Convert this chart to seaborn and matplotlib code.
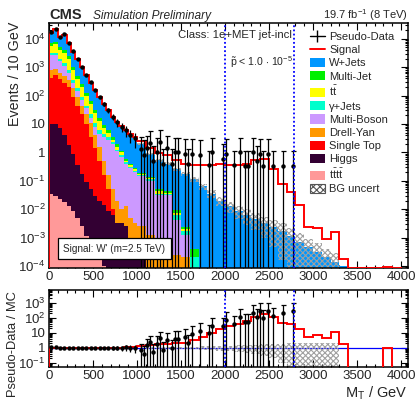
import numpy as np
import pandas as pd
import matplotlib
matplotlib.use("Agg")
import matplotlib.pyplot as plt
import seaborn as sns
from matplotlib.patches import Patch
from matplotlib.lines import Line2D
from matplotlib.ticker import FixedLocator, FuncFormatter, LogLocator, NullFormatter, MultipleLocator

# ---------------- data (Events / 10 GeV) ----------------
bin_edges = [0, 50, 100, 150, 200, 250, 300, 350, 400, 450, 500, 550, 600, 650, 700, 750,
             800, 850, 900, 950, 1000, 1100, 1200, 1300, 1400, 1500, 1600, 1700, 1800, 1900,
             2000, 2100, 2200, 2300, 2400, 2500, 2600, 2700, 2800, 2900, 3000, 3100, 3200,
             3300, 3400, 3500, 3600, 3700, 3800, 3900, 4000]

process_names = ["W+Jets", "Multi-Jet", "tt", "gJets", "Multi-Boson", "Drell-Yan",
                 "Single Top", "Higgs", "tttt"]

w_jets = [8770, 13437, 6470, 10144, 4567, 2548, 1494, 749, 399, 219, 126.6, 73.3, 41.2, 23.2,
          14.2, 9.2, 6.82, 5.06, 3.58, 2.74, 1.71, 0.755, 0.47, 0.356, 0.242, 0.176, 0.112,
          0.063, 0.0355, 0.02, 0.0126, 0.0089, 0.0063, 0.0045, 0.0032, 0.0024, 0.00166,
          0.00112, 0.0007, 0.00045, 0.00032, 0.0002, 0.00014, 0.0001, 0, 0, 0, 0, 0.00009, 0]
multi_jet = [1456, 1633, 1031, 819, 517, 206, 103, 51, 26, 13, 6.5, 3.2, 1.83, 1.3, 0.73, 0.42,
             0.12, 0.06, 0.043, 0.03, 0.02, 0.013, 0.006, 0.004, 0.002, 0.0004, 0.0002, 0, 0, 0,
             0, 0, 0, 0, 0, 0, 0, 0, 0, 0, 0, 0, 0, 0, 0, 0, 0, 0, 0, 0]
ttbar = [2461, 3148, 1986, 1749, 1201, 439, 220, 111, 55.3, 27.7, 13.9, 6.3, 2.61, 1.46, 0.58,
         0.32, 0.21, 0.054, 0.039, 0.027, 0.018, 0.012, 0.01, 0.004, 0.001, 0.0003, 0, 0, 0, 0,
         0, 0, 0, 0, 0, 0, 0, 0, 0, 0, 0, 0, 0, 0, 0, 0, 0, 0, 0, 0]
gamma_jets = [532, 532, 410, 291, 163, 73, 37, 18.3, 9.2, 6.6, 3.28, 1.84, 0.92, 0.73, 0.24,
              0.14, 0.08, 0.05, 0.034, 0.024, 0.016, 0.011, 0.0035, 0.003, 0.002, 0.0005, 0.0002,
              0, 0, 0, 0, 0, 0, 0, 0, 0, 0, 0, 0, 0, 0, 0, 0, 0, 0, 0, 0, 0, 0, 0]
multi_boson = [1836, 1798, 954, 621, 276, 104, 52, 26.1, 13.1, 4.6, 3.96, 2.89, 3.05, 2.66, 1.95,
               1.1, 0.7, 0.39, 0.277, 0.197, 0.139, 0.099, 0.031, 0.031, 0.004, 0.001, 0, 0, 0,
               0, 0, 0, 0, 0, 0, 0, 0, 0, 0, 0, 0, 0, 0, 0, 0, 0, 0, 0, 0, 0]
drell_yan = [377, 307, 251, 219, 155, 88.7, 44.4, 22.3, 12.4, 7.65, 2.57, 1.08, 0.343, 0.108,
             0.04, 0.017, 0.0068, 0.0101, 0.0044, 0.0027, 0.0015, 0.0012, 0.0005, 0.0003,
             0.00025, 0.0002, 0, 0, 0, 0, 0, 0, 0, 0, 0, 0, 0, 0, 0, 0, 0, 0, 0, 0, 0, 0, 0, 0,
             0, 0]
single_top = [407, 515, 373, 278, 198, 88.2, 44.3, 22.2, 9.9, 3.5, 1.38, 0.48, 0.144, 0.041,
              0.0037, 0, 0, 0, 0, 0, 0, 0, 0, 0, 0, 0, 0, 0, 0, 0, 0, 0, 0, 0, 0, 0, 0, 0, 0, 0,
              0, 0, 0, 0, 0, 0, 0, 0, 0, 0]
higgs = [9.96, 9.97, 7.06, 3.96, 1.77, 0.88, 0.35, 0.175, 0.088, 0.049, 0.028, 0.02, 0.014,
         0.0089, 0.0063, 0.0032, 0.0032, 0.0025, 0.00063, 0.0005, 0.001, 0, 0, 0, 0, 0, 0, 0, 0,
         0, 0, 0, 0, 0, 0, 0, 0, 0, 0, 0, 0, 0, 0, 0, 0, 0, 0, 0, 0, 0]
tttt = [0.0355, 0.028, 0.0224, 0.0178, 0.0126, 0.0089, 0.005, 0.0025, 0.0011, 0.00056, 0.00028,
        0.00018, 0.0001, 0, 0, 0, 0, 0, 0, 0, 0, 0, 0, 0, 0, 0, 0, 0, 0, 0, 0, 0, 0, 0, 0, 0, 0,
        0, 0, 0, 0, 0, 0, 0, 0, 0, 0, 0, 0, 0]

signal_wprime = [2, 3, 3, 2.5, 2, 1.5, 1.2, 1.0, 0.9, 0.8, 0.7, 0.65, 0.6, 0.55, 0.5, 0.45, 0.42,
                 0.4, 0.38, 0.4, 0.6, 0.5, 0.4, 0.38, 0.3, 0.22, 0.243, 0.29, 0.335, 0.36, 0.357,
                 0.361, 0.394, 0.525, 0.577, 0.25, 0.078, 0.039, 0.0128, 0.002, 0.0019, 0.0007,
                 0.0014, 0.00008, 0.00002, 0, 0, 0, 0, 0]

bkg_rel_unc = [0.02, 0.03, 0.08, 0.1, 0.04, 0.03, 0.03, 0.03, 0.03, 0.03, 0.04, 0.04, 0.05, 0.05,
               0.05, 0.06, 0.06, 0.07, 0.07, 0.08, 0.08, 0.1, 0.1, 0.12, 0.15, 0.18, 0.2, 0.25,
               0.3, 0.35, 0.4, 0.5, 0.55, 0.6, 0.7, 0.8, 0.9, 1.0, 1.0, 1.0, 1.0, 1.0, 1.0, 1.0,
               0, 0, 0, 0, 1.0, 0]

# pseudo-data, low-mass part (one value per 50 GeV bin, 0-1000 GeV)
data_low = [1.7e4, 2.3e4, 1.2e4, 1.45e4, 7.0e3, 3.6e3, 2.0e3, 1.0e3, 540, 290, 160, 90, 50, 30,
            18, 11.5, 8, 6, 4.2, 3.2]
# pseudo-data, high-mass single points
data_high_mass = [1040, 1075, 1110, 1150, 1185, 1225, 1260, 1295, 1340, 1395, 1430, 1470, 1545,
                  1585, 1620, 1720, 1815, 1850, 1975, 2010, 2100, 2170, 2226, 2265, 2321, 2360,
                  2400, 2435, 2490, 2548, 2662, 2776]
data_high_val = [1.3, 0.8, 1.4, 2.1, 0.5, 1.0, 2.3, 0.4, 1.4, 0.4, 1.0, 1.0, 0.9, 0.4, 0.9, 0.8,
                 0.35, 1.0, 0.6, 0.9, 0.35, 1.0, 0.33, 0.33, 1.0, 0.5, 0.9, 0.33, 0.9, 0.33,
                 0.33, 0.33]
data_high_n = [2, 1, 2, 2, 1, 1, 2, 1, 2, 1, 1, 1, 1, 1, 1, 1, 1, 1, 1, 1, 1, 1, 1, 1, 1, 1, 1,
               1, 1, 1, 1, 1]

colors = {"W+Jets": "#0097ff", "Multi-Jet": "#00f000", "tt": "#ffff00", "gJets": "#00ffcc",
          "Multi-Boson": "#cc99ff", "Drell-Yan": "#ff9900", "Single Top": "#ff0000",
          "Higgs": "#330033", "tttt": "#ff9999"}
legend_labels = {"W+Jets": "W+Jets", "Multi-Jet": "Multi-Jet", "tt": r"t$\bar{\mathrm{t}}$",
                 "gJets": "γ+Jets", "Multi-Boson": "Multi-Boson", "Drell-Yan": "Drell-Yan",
                 "Single Top": "Single Top", "Higgs": "Higgs",
                 "tttt": r"t$\bar{\mathrm{t}}$t$\bar{\mathrm{t}}$"}

# ---------------- style ----------------
sns.set_theme(style="ticks")
plt.rcParams["font.family"] = ["Liberation Sans", "DejaVu Sans"]
plt.rcParams["mathtext.fontset"] = "custom"
plt.rcParams["mathtext.rm"] = "Liberation Sans"
plt.rcParams["mathtext.it"] = "Liberation Sans:italic"
plt.rcParams["mathtext.bf"] = "Liberation Sans:bold"
plt.rcParams["axes.edgecolor"] = "black"
plt.rcParams["axes.linewidth"] = 1.1
plt.rcParams["hatch.linewidth"] = 0.8

edges = np.array(bin_edges, dtype=float)
centers = 0.5 * (edges[:-1] + edges[1:])
nb = len(centers)
series = [w_jets, multi_jet, ttbar, gamma_jets, multi_boson, drell_yan, single_top, higgs, tttt]
proc = np.array([np.array(s, dtype=float) for s in series])
bkg = proc.sum(axis=0)
sig = np.array(signal_wprime, dtype=float)
unc = np.array(bkg_rel_unc, dtype=float)

long = pd.DataFrame({
    "mass": np.tile(centers, len(process_names)),
    "value": proc.ravel(),
    "process": np.repeat(process_names, nb),
})

fig = plt.figure(figsize=(4.2, 4.01), dpi=100)
ax = fig.add_axes([0.1167, 0.3317, 0.8548, 0.611])
rax = fig.add_axes([0.1167, 0.0850, 0.8548, 0.192])

YMIN, YMAX = 8.5e-5, 3.6e4
RMIN, RMAX = 0.055, 7000

sns.histplot(data=long, x="mass", weights="value", hue="process", hue_order=process_names,
             palette=colors, multiple="stack", bins=list(bin_edges), element="step", fill=True,
             alpha=1, linewidth=0, legend=False, ax=ax)
ax.set_yscale("log")

# background uncertainty band
has = (bkg > 0) & (unc > 0)
lo = np.where(has, np.maximum(bkg * (1 - unc), 1e-12), np.nan)
hi = np.where(has, bkg * (1 + unc), np.nan)
ax.fill_between(edges, np.append(lo, lo[-1]), np.append(hi, hi[-1]), step="post",
                facecolor="none", edgecolor="#a0a0a0", hatch="xxxxxx", linewidth=0, zorder=2)

# signal (stacked on background)
tot = bkg + sig
ax.stairs(np.maximum(tot, YMIN * 1.02), edges, color="#ff0000", lw=1.4, zorder=3)

# pseudo-data
dlow = np.array(data_low, dtype=float)
xlow = centers[:len(dlow)]
rel = 1.0 / np.sqrt(dlow)
ax.errorbar(xlow, dlow, yerr=[dlow * rel, dlow * rel], fmt="o", ms=2.2, color="black",
            elinewidth=0.9, capsize=0, zorder=4)
xh = np.array(data_high_mass, dtype=float)
yh = np.array(data_high_val, dtype=float)
nh = np.array(data_high_n)
up_factor = np.where(nh == 1, 3.3, 2.66)
yh_lo = yh - 1e-9
yh_hi = yh * (up_factor - 1)
ax.errorbar(xh, yh, yerr=[yh_lo, yh_hi], fmt="o", ms=2.2, color="black", elinewidth=0.9,
            capsize=1.8, capthick=0.9, zorder=4)

for a in (ax, rax):
    for xv in (2000, 2780):
        a.axvline(xv, color="#0000ff", ls=(0, (1, 1.3)), lw=1.3, zorder=6)

# ---------------- ratio panel ----------------
rax.set_yscale("log")
rax.axhline(1.0, color="#0000ff", lw=0.9, zorder=1)
rlo = np.where(has, np.maximum(1 - unc, 1e-9), np.nan)
rhi = np.where(has, 1 + unc, np.nan)
rax.fill_between(edges, np.append(rlo, rlo[-1]), np.append(rhi, rhi[-1]), step="post",
                 facecolor="none", edgecolor="#a0a0a0", hatch="xxxxxx", linewidth=0, zorder=2)
sig_ratio = np.where(bkg > 0, tot / np.where(bkg > 0, bkg, 1), RMIN * 0.5)
rax.stairs(np.clip(sig_ratio, RMIN * 0.5, RMAX * 2), edges, color="#ff0000", lw=1.4, zorder=3)

r_low = dlow / bkg[:len(dlow)]
rax.errorbar(xlow, r_low, yerr=[r_low * rel, r_low * rel], fmt="o", ms=2.2, color="black",
             elinewidth=0.9, capsize=0, zorder=4)
idx = np.searchsorted(edges, xh, side="right") - 1
r_h = yh / bkg[idx]
rax.errorbar(xh, r_h, yerr=[r_h - 1e-9, r_h * (up_factor - 1)], fmt="o", ms=2.2,
             color="black", elinewidth=0.9, capsize=1.8, capthick=0.9, zorder=4)


def log_label(v, pos):
    e = int(round(np.log10(v)))
    if e == 0:
        return "1"
    if e == 1:
        return "10"
    return r"$10^{%d}$" % e


for a, (y0, y1), majors in ((ax, (YMIN, YMAX), [10.0 ** k for k in range(-4, 5)]),
                            (rax, (RMIN, RMAX), [10.0 ** k for k in range(-1, 4)])):
    a.set_xlim(0, 4080)
    a.set_ylim(y0, y1)
    a.xaxis.set_major_locator(MultipleLocator(500))
    a.xaxis.set_minor_locator(MultipleLocator(100))
    a.yaxis.set_major_locator(FixedLocator(majors))
    a.yaxis.set_major_formatter(FuncFormatter(log_label))
    a.yaxis.set_minor_locator(LogLocator(base=10, subs=np.arange(2, 10), numticks=20))
    a.yaxis.set_minor_formatter(NullFormatter())
    a.tick_params(which="both", direction="in", top=True, right=True, labelsize=9.5,
                  color="black", width=0.8, pad=2.5)
    a.tick_params(which="major", length=5)
    a.tick_params(which="minor", length=2.5)
    a.set_xlabel("")
    a.set_ylabel("")
    for s in a.spines.values():
        s.set_visible(True)
        s.set_color("black")
        s.set_linewidth(1.1)

# ---------------- texts ----------------
fig.text(0.117, 0.953, "CMS", fontsize=10.5, fontweight="bold", va="baseline", ha="left")
fig.text(0.221, 0.953, "Simulation Preliminary", fontsize=8.6, style="italic",
         va="baseline", ha="left")
fig.text(0.971, 0.953, r"19.7 fb$^{-1}$ (8 TeV)", fontsize=8, va="baseline", ha="right")
fig.text(0.695, 0.913, "Class: 1e+MET jet-incl", fontsize=8.2, va="center", ha="right")
fig.text(0.548, 0.845, r"$\tilde{\mathrm{p}}$ < 1.0 $\cdot$ 10$^{-5}$", fontsize=7.6,
         va="center", ha="left")
fig.text(15 / 420, 0.945, "Events / 10 GeV", fontsize=10.3, rotation=90, va="top",
         ha="center")
fig.text(13 / 420, 1 - 291 / 401, "Pseudo-Data / MC", fontsize=9.3, rotation=90, va="top",
         ha="center")
fig.text(0.971, 1 - 393 / 401, r"M$_{\mathrm{T}}$ / GeV", fontsize=10.5, va="center",
         ha="right")
ax.text(0.04, 0.078, "Signal: W' (m=2.5 TeV)", transform=ax.transAxes, fontsize=7.2,
        va="center", ha="left", zorder=7,
        bbox=dict(boxstyle="square,pad=0.55", facecolor="white", edgecolor="black", lw=0.9))

handles = [Line2D([], [], color="black", lw=1.0, marker="|", ms=9, mew=1.0),
           Line2D([], [], color="#ff0000", lw=1.4)]
labels = ["Pseudo-Data", "Signal"]
for p in process_names:
    handles.append(Patch(facecolor=colors[p], edgecolor="none"))
    labels.append(legend_labels[p])
handles.append(Patch(facecolor="white", edgecolor="#555555", hatch="xxxxx", lw=0.8))
labels.append("BG uncert")
leg = ax.legend(handles, labels, loc="upper left", bbox_to_anchor=(303 / 420, 1 - 25 / 401),
                bbox_transform=fig.transFigure, frameon=False, fontsize=8, handlelength=1.4,
                handleheight=0.9, handletextpad=0.35, labelspacing=0.245, borderpad=0.1)
leg.set_zorder(8)

fig.savefig("out.png", dpi=100, facecolor="white")
